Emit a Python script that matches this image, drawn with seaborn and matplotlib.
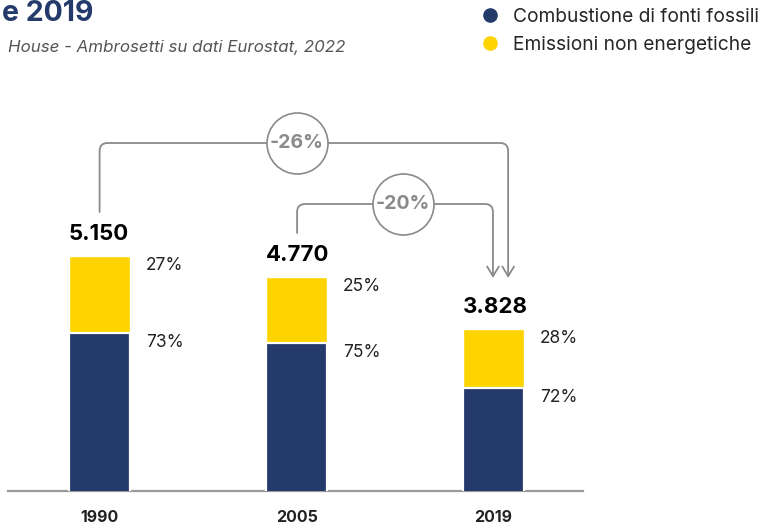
import numpy as np
import pandas as pd
import seaborn as sns
import matplotlib.pyplot as plt
from matplotlib.path import Path
from matplotlib.patches import FancyArrowPatch
from matplotlib.lines import Line2D

sns.set_theme(style="white")
plt.rcParams["font.family"] = ["Inter", "DejaVu Sans"]

NAVY = "#243a6b"
YELLOW = "#fdd300"
GREY = "#8a8a8a"

years = ["1990", "2005", "2019"]
totals = [5150, 4770, 3828]
share_fossil = [73, 75, 72]
share_other = [27, 25, 28]
changes = ["-26%", "-20%"]

df = pd.DataFrame({"year": years, "total": totals,
                   "fossil": np.array(totals) * np.array(share_fossil) / 100})

fig = plt.figure(figsize=(7.76, 5.25), dpi=100)
ax = fig.add_axes([8 / 776, 34 / 525, 575 / 776, 391 / 525])

sns.barplot(data=df, x="year", y="total", color=YELLOW, width=0.31,
            saturation=1, ax=ax, zorder=2)
sns.barplot(data=df, x="year", y="fossil", color=NAVY, width=0.31,
            saturation=1, ax=ax, edgecolor="white", linewidth=1.6, zorder=3)

ymin = 877
ypx = 18.19  # data units per pixel
ax.set_ylim(ymin, ymin + 391 * ypx)
ax.set_xlim(-0.465, 2.454)


def yp(p):
    # pixel row (from top of figure) -> data value
    return ymin + (491 - p) * ypx


for s in ["top", "right", "left"]:
    ax.spines[s].set_visible(False)
ax.spines["bottom"].set_color("#9a9a9a")
ax.spines["bottom"].set_linewidth(1.6)
ax.set_yticks([])
ax.set_xlabel("")
ax.set_ylabel("")
ax.tick_params(axis="x", length=0, pad=14, labelsize=11.5, labelcolor="#222222")
for lab in ax.get_xticklabels():
    lab.set_fontweight("bold")

# totals and shares
for i, (t, f, o) in enumerate(zip(totals, share_fossil, share_other)):
    ax.annotate(f"{t/1000:.3f}", (i - 0.155, t), xytext=(0, 11.5),
                textcoords="offset points", ha="left", va="baseline",
                fontsize=16, fontweight="bold", color="black")
    ax.annotate(f"{o}%", (i + 0.155, t), xytext=(11.5, -1),
                textcoords="offset points", ha="left", va="top",
                fontsize=12.5, color="#222222")
    ax.annotate(f"{f}%", (i + 0.155, t * f / 100), xytext=(11.5, -1),
                textcoords="offset points", ha="left", va="top",
                fontsize=12.5, color="#222222")


def bracket(x0, y0, x1, ytop, y1):
    rx, ry = 8 / 197, 8 * ypx
    verts = [(x0, y0), (x0, ytop - ry), (x0, ytop), (x0 + rx, ytop),
             (x1 - rx, ytop), (x1, ytop), (x1, ytop - ry), (x1, y1)]
    codes = [Path.MOVETO, Path.LINETO, Path.CURVE3, Path.CURVE3,
             Path.LINETO, Path.CURVE3, Path.CURVE3, Path.LINETO]
    arr = FancyArrowPatch(path=Path(verts, codes), arrowstyle="->,head_length=0.5,head_width=0.3",
                          mutation_scale=14, color=GREY, lw=1.3, zorder=4)
    ax.add_patch(arr)


arrow_tip = yp(278)
top1 = yp(143)
top2 = yp(204)
bracket(0, yp(212), 2.074, top1, arrow_tip)
bracket(1.0025, yp(233), 1.997, top2, arrow_tip)

for (cx, cy), lab in zip([(1.0, top1), (1.54, top2)], changes):
    ax.scatter([cx], [cy], s=(61 * 0.72) ** 2, facecolor="white",
               edgecolor=GREY, linewidth=1.2, zorder=5)
    ax.text(cx, cy, lab, ha="center", va="center", fontsize=14,
            fontweight="bold", color=GREY, zorder=6)

# title (cut off at the left edge) and source
fig.text(93 / 776, 1 - 21 / 525, "e 2019", ha="right", va="baseline",
         fontsize=20.5, fontweight="bold", color=NAVY)
fig.text(345 / 776, 1 - 52 / 525, "House - Ambrosetti su dati Eurostat, 2022",
         ha="right", va="baseline", fontsize=12.2, style="italic", color="#555555")

handles = [Line2D([], [], marker="o", linestyle="", markersize=9.5, color=NAVY),
           Line2D([], [], marker="o", linestyle="", markersize=9.5, color=YELLOW)]
fig.legend(handles, ["Combustione di fonti fossili", "Emissioni non energetiche"],
           loc="upper left", bbox_to_anchor=(478 / 776, 1 - 8 / 525), frameon=False,
           fontsize=13.8, handletextpad=0.65, labelspacing=0.5, handlelength=1.2,
           borderaxespad=0, borderpad=0)

fig.savefig("out.png", dpi=100)
